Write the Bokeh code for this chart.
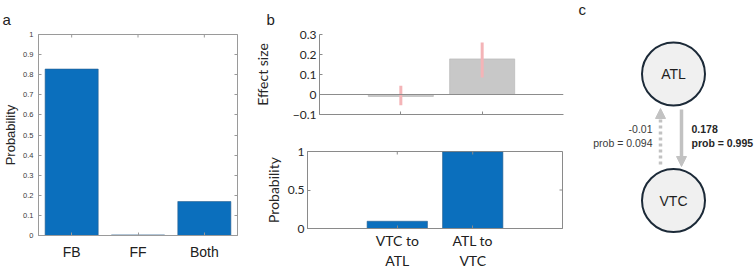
import math
from bokeh.plotting import figure
from bokeh.layouts import row, column
from bokeh.models import (Range1d, FactorRange, FixedTicker, Span, Arrow, NormalHead,
                          LinearAxis)
from bokeh.core.properties import value
from bokeh.embed import file_html
from bokeh.resources import INLINE

# ---- data -------------------------------------------------------------
# (a) probability of each connectivity pattern
patterns = ["FB", "FF", "Both"]
pattern_prob = [0.828, 0.003, 0.169]
prob_ticks = [0, 0.1, 0.2, 0.3, 0.4, 0.5, 0.6, 0.7, 0.8, 0.9, 1]

# (b) directed connections: effect size with interval, and probability
directions = ["VTC to\nATL", "ATL to\nVTC"]
effect_size = [-0.01, 0.178]
effect_low = [-0.054, 0.085]
effect_high = [0.044, 0.26]
direction_prob = [0.094, 0.995]
effect_ticks = [-0.1, 0, 0.1, 0.2, 0.3]
dir_prob_ticks = [0, 0.5, 1]

# (c) network diagram nodes
nodes = ["ATL", "VTC"]

# ---- styles -----------------------------------------------------------
BLUE = "#0b6fbd"
AXIS_A = "#9a9a9a"
AXIS_B = "#8a8a8a"
FONT_A = "Liberation Sans"
FONT_B = "Lato"

common = dict(output_backend="svg", toolbar_location=None, frame_align=False)


def style_common(p):
    p.xgrid.grid_line_color = None
    p.ygrid.grid_line_color = None
    p.background_fill_color = "white"
    p.border_fill_color = "white"


def panel_letter(p, txt, offset):
    p.title.text = txt
    p.title.align = "left"
    p.title.offset = offset
    p.title.standoff = 14
    p.title.text_font = FONT_A
    p.title.text_font_size = "15px"
    p.title.text_font_style = "normal"
    p.title.text_color = "#222222"


def style_axis(ax, color, font, size, text_color, standoff):
    ax.axis_line_color = color
    ax.major_tick_line_color = color
    ax.major_tick_in = 3
    ax.major_tick_out = 0
    ax.minor_tick_line_color = None
    ax.major_label_text_font = font
    ax.major_label_text_font_size = size
    ax.major_label_text_color = text_color
    ax.major_label_standoff = standoff


def style_label(ax, font, size, standoff):
    ax.axis_label_text_font = font
    ax.axis_label_text_font_size = size
    ax.axis_label_text_font_style = "normal"
    ax.axis_label_text_color = "#262626"
    ax.axis_label_standoff = standoff


def mirror_axis(p, axis_cls, side, color, **kw):
    # unlabeled tick-only axis on the opposite side of the box
    ax = axis_cls(axis_line_color=None, major_tick_line_color=color,
                  major_tick_in=3, major_tick_out=0, minor_tick_line_color=None,
                  major_label_text_font_size="0px", major_label_standoff=0, **kw)
    p.add_layout(ax, side)


def inner_ticks(p, xs, ys, color, vertical=False):
    # short tick marks on the far edges of the box; the half outside the frame is clipped
    p.scatter(x=xs, y=ys, marker="dash", size=6, line_color=color, line_width=1,
              angle=math.pi / 2 if vertical else 0)


# ---- panel a ----------------------------------------------------------
pa = figure(x_range=FactorRange(*patterns, range_padding=0), y_range=Range1d(0, 1),
            width=250, height=271,
            min_border_left=34, min_border_right=13, min_border_top=34, min_border_bottom=36,
            **common)
style_common(pa)
pa.outline_line_color = AXIS_A
pa.vbar(x=patterns, top=pattern_prob, width=0.8, fill_color=BLUE,
        line_color="#2a5f8f", line_width=0.6)

ya = pa.yaxis[0]
xa = pa.xaxis[0]
ya.ticker = FixedTicker(ticks=prob_ticks)
ya.major_label_overrides = {0: "0", 1: "1"}
ya.axis_label = "Probability"
style_axis(ya, AXIS_A, FONT_A, "7.5px", "#3a3a3a", 5)
style_label(ya, FONT_A, "13px", 2)
style_axis(xa, AXIS_A, FONT_A, "14px", "#202020", 8)
mirror_axis(pa, LinearAxis, "right", AXIS_A, ticker=FixedTicker(ticks=prob_ticks))
inner_ticks(pa, patterns, [pa.y_range.end] * len(patterns), AXIS_A, vertical=True)
panel_letter(pa, "a", -36)

# ---- panel b, top: effect size ----------------------------------------
xpos = [i + 1 for i in range(len(directions))]

pb1 = figure(x_range=Range1d(0, 3), y_range=Range1d(-0.1, 0.3),
             width=320, height=130,
             min_border_left=57, min_border_right=7, min_border_top=34, min_border_bottom=16,
             **common)
style_common(pb1)
pb1.outline_line_color = None
pb1.vbar(x=xpos, top=effect_size, bottom=0, width=0.8, fill_color="#c8c8c8",
         line_color="#b4b4b4", line_width=0.6)
pb1.add_layout(Span(location=0, dimension="width", line_color="#8c8c8c", line_width=1.2))
pb1.segment(x0=xpos, y0=effect_low, x1=xpos, y1=effect_high,
            line_color="#f4b4b7", line_width=3)

y1 = pb1.yaxis[0]
x1 = pb1.xaxis[0]
y1.ticker = FixedTicker(ticks=effect_ticks)
y1.major_label_overrides = {0: "0"}
y1.axis_label = "Effect size"
style_axis(y1, AXIS_B, FONT_B, "12px", "#262626", 3)
style_label(y1, FONT_B, "14px", 19)
x1.ticker = FixedTicker(ticks=xpos)
x1.major_label_overrides = {1: "", 2: ""}
style_axis(x1, AXIS_B, FONT_B, "0px", "#262626", 0)
panel_letter(pb1, "b", -53)

# ---- panel b, bottom: probability -------------------------------------
pb2 = figure(x_range=Range1d(-0.19, 3.19), y_range=Range1d(0, 1),
             width=320, height=141,
             min_border_left=57, min_border_right=8, min_border_top=21, min_border_bottom=39,
             **common)
style_common(pb2)
pb2.outline_line_color = AXIS_B
pb2.vbar(x=xpos, top=direction_prob, width=0.8, fill_color=BLUE,
         line_color="#2a5f8f", line_width=0.6)

y2 = pb2.yaxis[0]
x2 = pb2.xaxis[0]
y2.ticker = FixedTicker(ticks=dir_prob_ticks)
y2.major_label_overrides = {0: "0", 1: "1"}
y2.axis_label = "Probability"
style_axis(y2, AXIS_B, FONT_B, "12px", "#262626", 3)
style_label(y2, FONT_B, "14px", 3)
x2.ticker = FixedTicker(ticks=xpos)
x2.major_label_overrides = {x: d for x, d in zip(xpos, directions)}
style_axis(x2, AXIS_B, FONT_B, "14px", "#202020", 3)
inner_ticks(pb2, [pb2.x_range.end] * len(dir_prob_ticks), dir_prob_ticks, AXIS_B)
inner_ticks(pb2, xpos, [pb2.y_range.end] * len(xpos), AXIS_B, vertical=True)

# ---- panel c: network diagram -----------------------------------------
pc = figure(x_range=Range1d(0, 185), y_range=Range1d(271, 0),
            width=185, height=271,
            min_border_left=0, min_border_right=0, min_border_top=0, min_border_bottom=0,
            x_axis_type=None, y_axis_type=None, **common)
style_common(pc)
pc.outline_line_color = None

node_x = [103, 103]
node_y = [73.5, 200]
pc.scatter(x=node_x, y=node_y, size=63, marker="circle", fill_color="#f0f0f0",
           line_color="#1c2a38", line_width=2)
pc.text(x=node_x, y=node_y, text=nodes, text_align="center", text_baseline="middle",
        text_font=value(FONT_A), text_font_size="14px", text_color="#1e1e1e")

ARROW = "#c2c2c2"
# VTC -> ATL (weak, dashed)
pc.add_layout(Arrow(x_start=90, y_start=164, x_end=90, y_end=108,
                    line_color=ARROW, line_width=3.5, line_dash="3 3",
                    end=NormalHead(size=10, fill_color=ARROW, line_color=ARROW)))
# ATL -> VTC (strong, solid)
pc.add_layout(Arrow(x_start=111, y_start=109, x_end=111, y_end=166,
                    line_color=ARROW, line_width=3.5,
                    end=NormalHead(size=10, fill_color=ARROW, line_color=ARROW)))

pc.text(x=[82, 82], y=[128, 142],
        text=[f"{effect_size[0]:g}", f"prob = {direction_prob[0]:.3f}"],
        text_align="right", text_baseline="middle",
        text_font=value(FONT_A), text_font_size="10.5px", text_color="#3a3a3a")
pc.text(x=[121, 121], y=[128, 142],
        text=[f"{effect_size[1]:g}", f"prob = {direction_prob[1]:.3f}"],
        text_align="left", text_baseline="middle", text_font_style="bold",
        text_font=value(FONT_A), text_font_size="10.5px", text_color="#262626")
pc.text(x=[8], y=[9], text=["c"], text_align="left", text_baseline="middle",
        text_font=value(FONT_A), text_font_size="15px", text_color="#222222")

layout = row(pa, column(pb1, pb2, spacing=0), pc, spacing=0)

open("out.html", "w").write(file_html(layout, INLINE))
